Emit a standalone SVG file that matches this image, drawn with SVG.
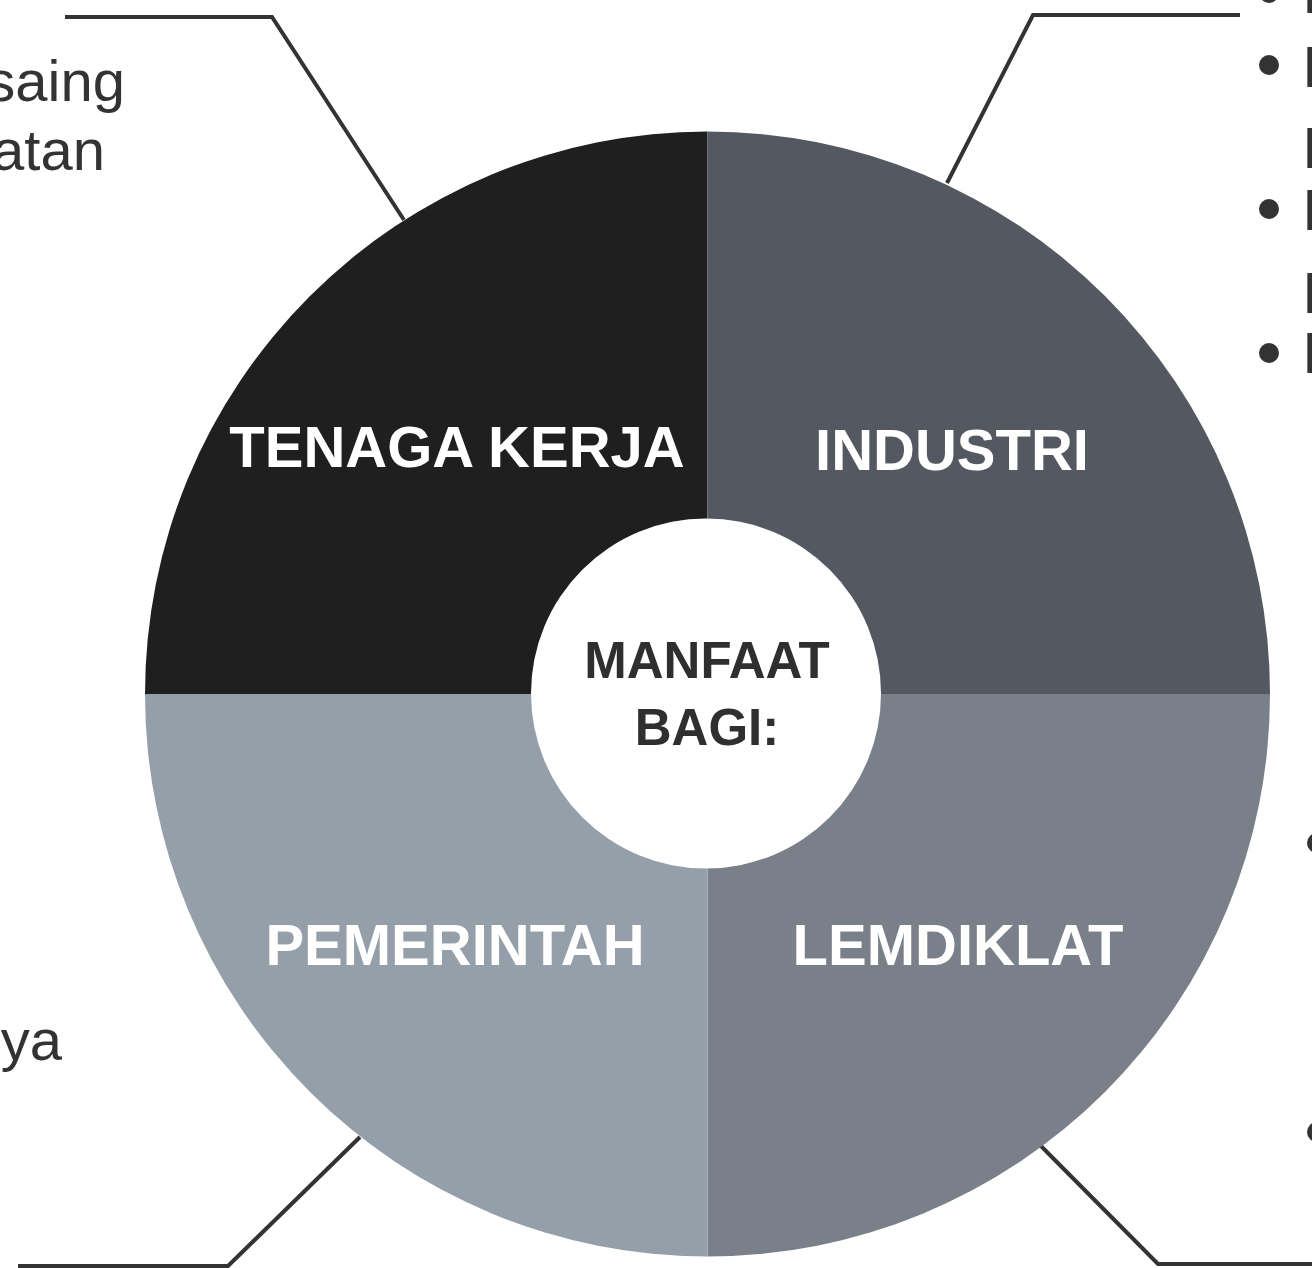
<svg xmlns="http://www.w3.org/2000/svg" width="1312" height="1268" viewBox="0 0 1312 1268">
  <style>
    .lbl { font-family: "Liberation Sans", Arial, sans-serif; font-weight: bold; font-size: 58px; fill: #ffffff; text-anchor: middle; }
    .ctr { font-family: "Liberation Sans", Arial, sans-serif; font-weight: bold; font-size: 51px; fill: #2f2f2f; text-anchor: middle; }
    .body { font-family: "Liberation Sans", Arial, sans-serif; font-size: 58px; fill: #333333; }
    .conn { fill: none; stroke: #333333; stroke-width: 4; stroke-linejoin: miter; }
    .dot { fill: #333333; }
  </style>
  <rect width="1312" height="1268" fill="#ffffff"/>

  <g id="connectors">
    <polyline class="conn" points="65,17 272,17 404,220"/>
    <polyline class="conn" points="1240,15 1033,15 947,183"/>
    <polyline class="conn" points="18,1266 228,1266 360,1137"/>
    <polyline class="conn" points="1038,1143 1158,1264 1312,1264"/>
  </g>

  <g id="node-tenaga-kerja">
    <path d="M707.5,694 L145,694 A562.5,562.5 0 0 1 707.5,131.5 Z" fill="#1f1f1f"/>
    <text class="lbl" x="457" y="467">TENAGA KERJA</text>
  </g>
  <g id="node-industri">
    <path d="M707.5,694 L707.5,131.5 A562.5,562.5 0 0 1 1270,694 Z" fill="#545860"/>
    <text class="lbl" x="952" y="470">INDUSTRI</text>
  </g>
  <g id="node-lemdiklat">
    <path d="M707.5,694 L1270,694 A562.5,562.5 0 0 1 707.5,1256.5 Z" fill="#7a808a"/>
    <text class="lbl" x="958" y="965">LEMDIKLAT</text>
  </g>
  <g id="node-pemerintah">
    <path d="M707.5,694 L707.5,1256.5 A562.5,562.5 0 0 1 145,694 Z" fill="#959fa9"/>
    <text class="lbl" x="455" y="965">PEMERINTAH</text>
  </g>
  <g id="node-manfaat">
    <circle cx="706" cy="693.5" r="175" fill="#ffffff"/>
    <text class="ctr" x="707" y="678">MANFAAT</text>
    <text class="ctr" x="707" y="745">BAGI:</text>
  </g>

  <g id="text-tenaga-kerja">
    <text class="body" x="125" y="101" text-anchor="end">saing</text>
    <text class="body" x="105" y="170" text-anchor="end">atan</text>
  </g>
  <g id="text-pemerintah">
    <text class="body" x="62" y="1060" text-anchor="end">ya</text>
  </g>
  <g id="text-industri">
    <circle class="dot" cx="1269" cy="-7" r="10"/>
    <circle class="dot" cx="1269" cy="65" r="10"/>
    <circle class="dot" cx="1269" cy="209" r="10"/>
    <circle class="dot" cx="1269" cy="353" r="10"/>
    <text class="body" x="1302" y="13">I</text>
    <text class="body" x="1302" y="87">I</text>
    <text class="body" x="1302" y="168">I</text>
    <text class="body" x="1302" y="230">I</text>
    <text class="body" x="1302" y="313">I</text>
    <text class="body" x="1302" y="373">I</text>
  </g>
  <g id="text-lemdiklat">
    <circle class="dot" cx="1317" cy="843" r="10"/>
    <circle class="dot" cx="1317" cy="1132" r="10"/>
  </g>
</svg>
